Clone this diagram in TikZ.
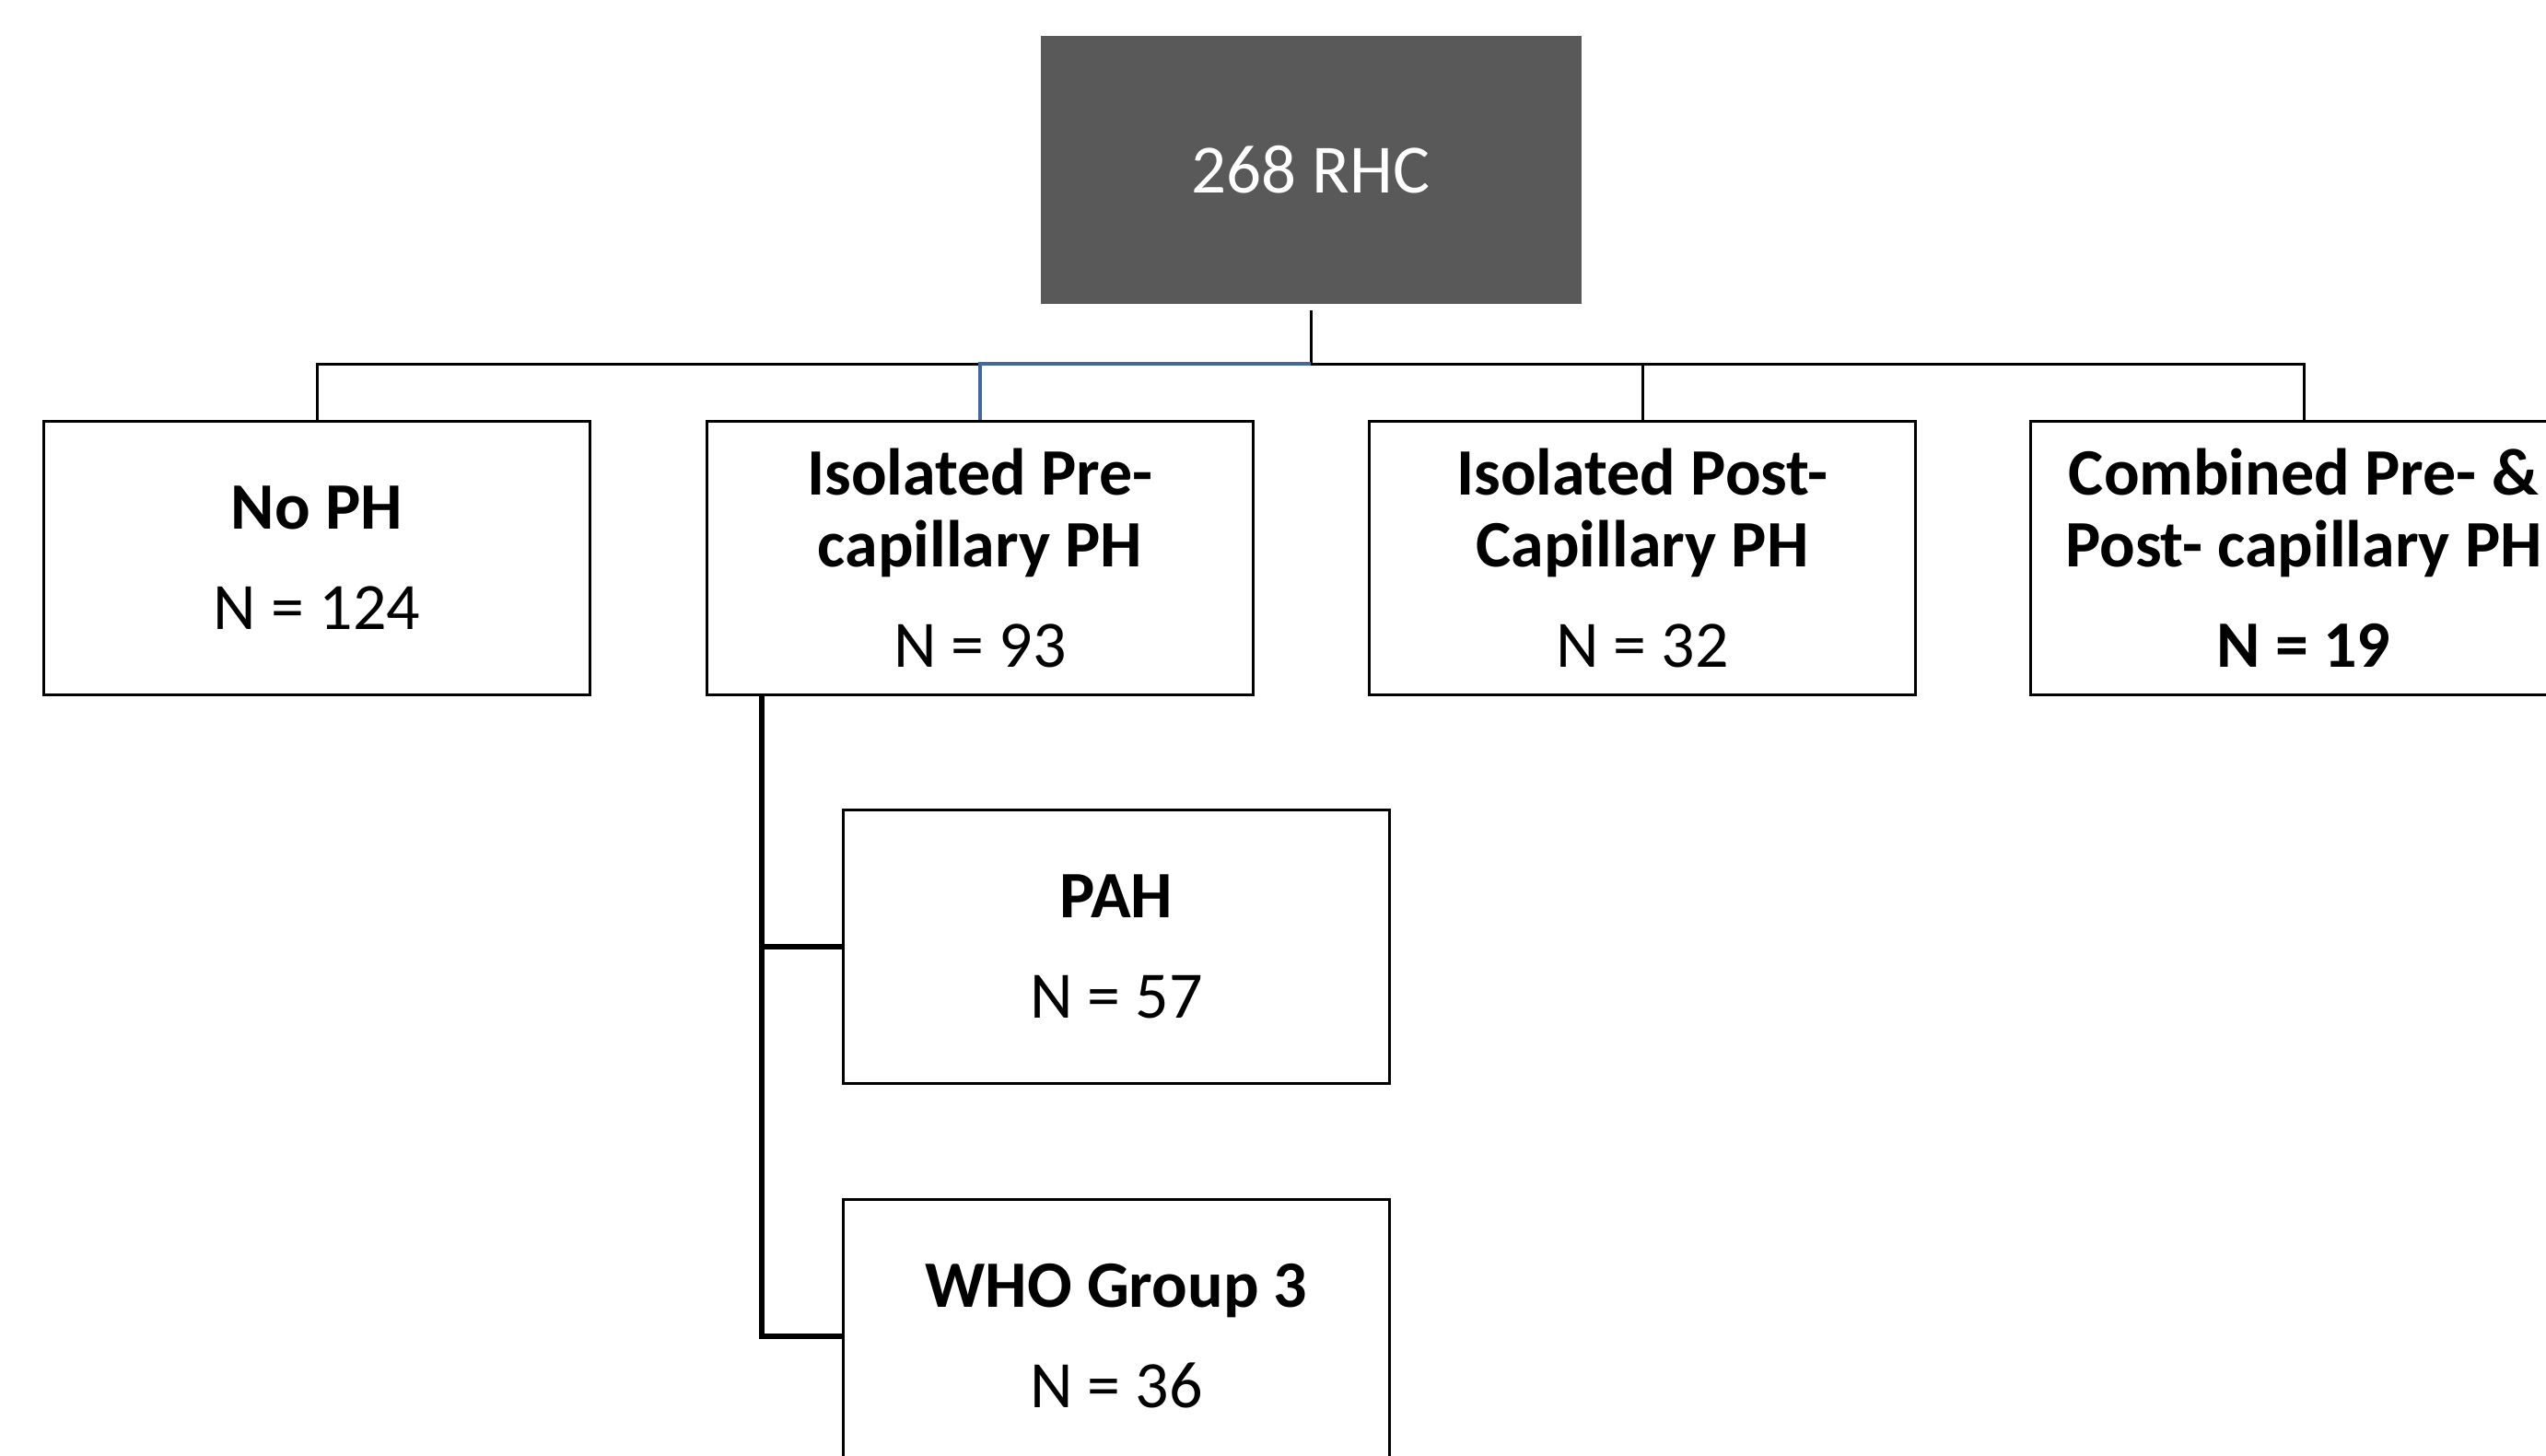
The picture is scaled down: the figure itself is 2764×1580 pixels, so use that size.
\documentclass[tikz,border=0pt]{standalone}
\usepackage{fontspec}
\setmainfont{Carlito}
\usepackage{tikz}
\definecolor{rhcgray}{RGB}{89,89,89}
\definecolor{linkblue}{RGB}{66,104,160}

\begin{document}
\begin{tikzpicture}[x=1pt,y=-1pt,
    box/.style={draw,line width=2.6pt,minimum width=593pt,minimum height=297pt,inner sep=0pt,
      align=center,font=\fontsize{72}{78}\selectfont},
    head/.style={box,draw=none,fill=rhcgray,text=white,minimum width=587pt,minimum height=291pt,
      font=\fontsize{75}{78}\selectfont},
    bus/.style={line width=3pt},
    trunk/.style={line width=5.5pt}]
      \useasboundingbox (0,0) rectangle (2764,1580);
      \clip (0,0) rectangle (2764,1580);
      \node[head] (rhc) at (1423,184) {268 RHC};
      \node[box] (noph) at (344,606) {\textbf{No PH}\\[31pt]N = 124};
      \node[box] (pre) at (1064,606) {\textbf{Isolated Pre-}\\\textbf{capillary PH}\\[31pt]N = 93};
      \node[box] (post) at (1783,606) {\textbf{Isolated Post-}\\\textbf{Capillary PH}\\[31pt]N = 32};
      \node[box] (comb) at (2501,606) {\textbf{Combined Pre- \&}\\\textbf{Post- capillary PH}\\[31pt]\textbf{N = 19}};
      \node[box] (pah) at (1212,1028) {\textbf{PAH}\\[31pt]N = 57};
      \node[box] (who) at (1212,1451) {\textbf{WHO Group 3}\\[31pt]N = 36};

      \coordinate (split) at (1423,395);
      \coordinate (stem) at (827,755);

      \draw[bus] (noph.north) |- (split) -| (comb.north);
      \draw[bus] (post.north) -- (post.north |- split);
      \draw[bus,shorten <=6pt] (rhc.south) -- (split);
      \draw[bus,linkblue,line width=4pt] (pre.north) |- (split);

      \draw[trunk] (stem) |- (who.west);
      \draw[trunk] (pah.west -| stem) -- (pah.west);
    \end{tikzpicture}
\end{document}
